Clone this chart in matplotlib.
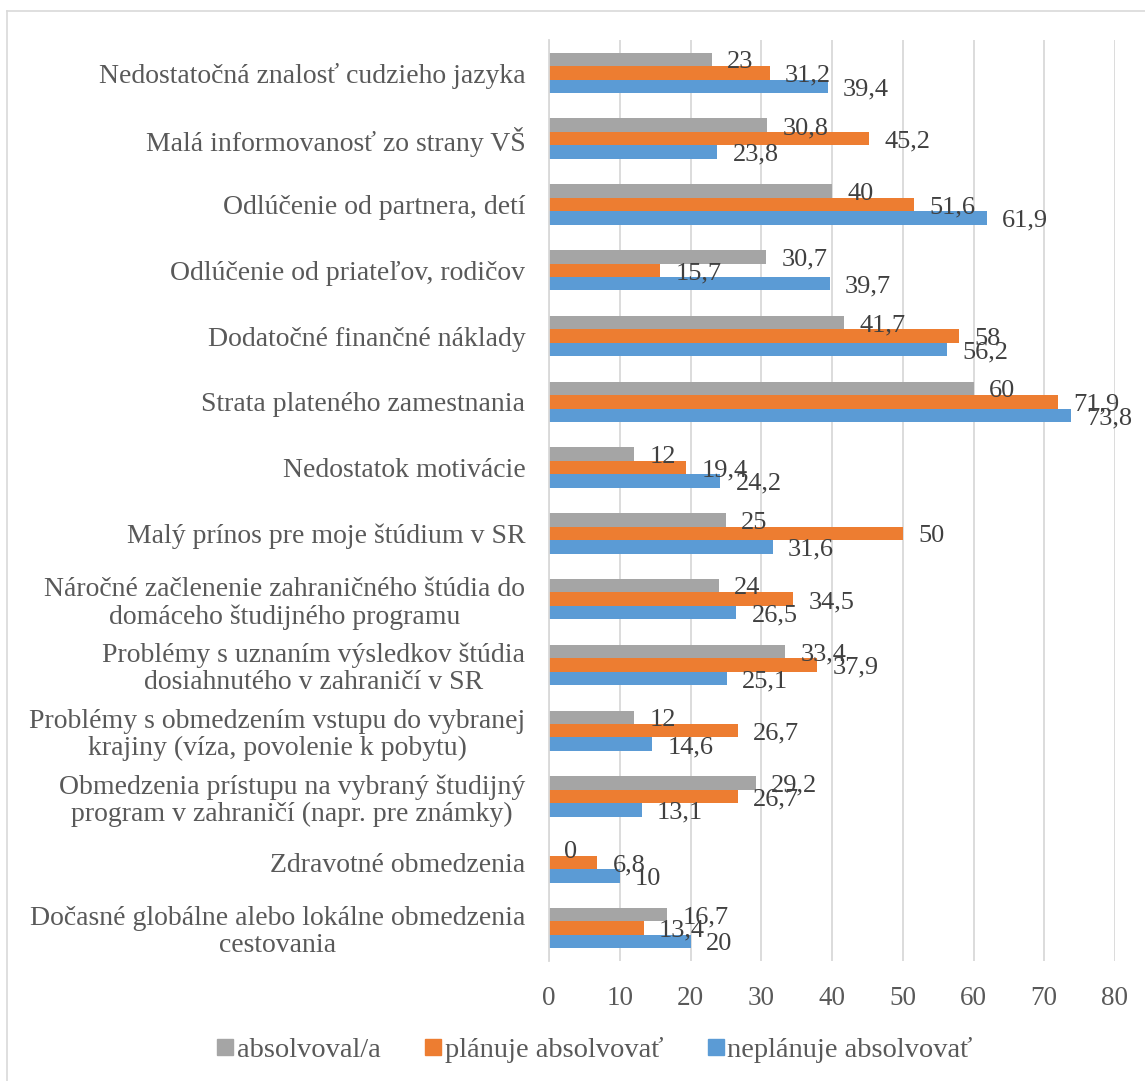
import matplotlib
matplotlib.use("Agg")
import matplotlib.pyplot as plt
from matplotlib.lines import Line2D
import numpy as np

categories = [
    "Nedostatočná znalosť cudzieho jazyka",
    "Malá informovanosť zo strany VŠ",
    "Odlúčenie od partnera, detí",
    "Odlúčenie od priateľov, rodičov",
    "Dodatočné finančné náklady",
    "Strata plateného zamestnania",
    "Nedostatok motivácie",
    "Malý prínos pre moje štúdium v SR",
    "Náročné začlenenie zahraničného štúdia do\ndomáceho študijného programu",
    "Problémy s uznaním výsledkov štúdia\ndosiahnutého v zahraničí v SR",
    "Problémy s obmedzením vstupu do vybranej\nkrajiny (víza, povolenie k pobytu)",
    "Obmedzenia prístupu na vybraný študijný\nprogram v zahraničí (napr. pre známky)",
    "Zdravotné obmedzenia",
    "Dočasné globálne alebo lokálne obmedzenia\ncestovania",
]
absolvoval = [23, 30.8, 40, 30.7, 41.7, 60, 12, 25, 24, 33.4, 12, 29.2, 0, 16.7]
planuje = [31.2, 45.2, 51.6, 15.7, 58, 71.9, 19.4, 50, 34.5, 37.9, 26.7, 26.7, 6.8, 13.4]
neplanuje = [39.4, 23.8, 61.9, 39.7, 56.2, 73.8, 24.2, 31.6, 26.5, 25.1, 14.6, 13.1, 10, 20]
series_names = ["absolvoval/a", "plánuje absolvovať", "neplánuje absolvovať"]
colors = ["#A5A5A5", "#ED7D31", "#5B9BD5"]
xticks = [0, 10, 20, 30, 40, 50, 60, 70, 80]

plt.rcParams['font.family'] = ['Liberation Serif', 'DejaVu Serif']

W, H = 1145, 1081
fig = plt.figure(figsize=(W / 100, H / 100), dpi=100)
ax = fig.add_axes([549 / W, 1 - 961 / H, (1115 - 549) / W, (961 - 40) / H])

n = len(categories)
y = np.arange(n)
bh = 0.205
series = [absolvoval, planuje, neplanuje]
for i, (vals, c) in enumerate(zip(series, colors)):
    pos = y + (i - 1) * bh
    ax.barh(pos, vals, height=bh, color=c, zorder=3)
    for p, v in zip(pos, vals):
        lab = ("%g" % v).replace(".", ",")
        ax.annotate(lab, (v, p), xytext=(11, -2), textcoords="offset points",
                    ha="left", va="center", fontsize=19, color="#404040", zorder=5)

ax.set_ylim(n - 0.5, -0.5)
ax.set_xlim(0, 80)
ax.set_xticks(xticks)
ax.set_xticklabels([str(t) for t in xticks])
ax.set_yticks(y)
ax.set_yticklabels(categories, multialignment="center", linespacing=1.12)
ax.tick_params(axis="y", length=0, pad=17, labelsize=20, labelcolor="#595959")
ax.tick_params(axis="x", length=0, pad=18, labelsize=19.5, labelcolor="#595959")
ax.grid(axis="x", color="#D9D9D9", linewidth=1.3, zorder=0)
for s in ["top", "right", "bottom"]:
    ax.spines[s].set_visible(False)
ax.spines["left"].set_color("#D9D9D9")
ax.spines["left"].set_linewidth(1.3)
ax.spines["left"].set_zorder(4)

handles = [Line2D([0], [0], marker="s", linestyle="none", markersize=11,
                  markerfacecolor=c, markeredgecolor=c) for c in colors]
fig.legend(handles, series_names, loc="center", bbox_to_anchor=(594 / W, 1 - 1050 / H),
           ncol=3, frameon=False, fontsize=20.5, labelcolor="#595959",
           handletextpad=0.05, columnspacing=1.5, handlelength=0.7)

# chart area border
fig.add_artist(Line2D([7 / W, 1.0], [1 - 11 / H, 1 - 11 / H], transform=fig.transFigure,
                      color="#D9D9D9", linewidth=1.2))
fig.add_artist(Line2D([7 / W, 7 / W], [0, 1 - 11 / H], transform=fig.transFigure,
                      color="#D9D9D9", linewidth=1.2))

fig.savefig("out.png", dpi=100, facecolor="white")
